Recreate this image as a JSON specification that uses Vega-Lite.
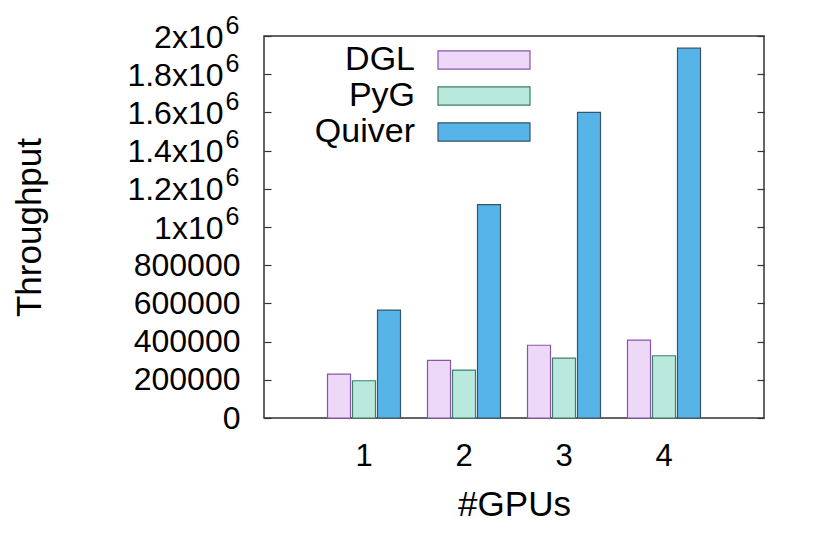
{
  "$schema": "https://vega.github.io/schema/vega-lite/v6.json",
  "width": 500,
  "height": 382,
  "autosize": "none",
  "padding": {"left": 264, "top": 36, "right": 66, "bottom": 116},
  "config": {
    "font": "Liberation Sans",
    "view": {"stroke": "#333333", "strokeWidth": 1.5},
    "legend": {
      "title": null,
      "orient": "none",
      "legendX": 203,
      "legendY": 7,
      "padding": 0,
      "rowPadding": 2,
      "symbolType": "M-4,-0.8H4V0.8H-4Z",
      "symbolSize": 529,
      "symbolStrokeWidth": 1.2,
      "labelAlign": "right",
      "labelBaseline": "middle",
      "labelFontSize": 34,
      "labelColor": "#000000",
      "labelOffset": -86,
      "labelLimit": 0
    }
  },
  "data": {
    "values": [
      {"gpus": 1, "system": "DGL", "value": 230000},
      {"gpus": 1, "system": "PyG", "value": 195000},
      {"gpus": 1, "system": "Quiver", "value": 565000},
      {"gpus": 2, "system": "DGL", "value": 302000},
      {"gpus": 2, "system": "PyG", "value": 251000},
      {"gpus": 2, "system": "Quiver", "value": 1117000},
      {"gpus": 3, "system": "DGL", "value": 381000},
      {"gpus": 3, "system": "PyG", "value": 313000},
      {"gpus": 3, "system": "Quiver", "value": 1600000},
      {"gpus": 4, "system": "DGL", "value": 408000},
      {"gpus": 4, "system": "PyG", "value": 326000},
      {"gpus": 4, "system": "Quiver", "value": 1936000}
    ]
  },
  "resolve": {"axis": {"y": "independent"}},
  "layer": [
    {
      "mark": {"type": "bar", "strokeWidth": 1.2},
      "encoding": {
        "x": {
          "field": "gpus",
          "type": "ordinal",
          "scale": {"paddingInner": 0.25, "paddingOuter": 0.625},
          "axis": {
            "title": "#GPUs",
            "labelAngle": 0,
            "labelFontSize": 31,
            "labelColor": "#000000",
            "labelPadding": 23,
            "ticks": false,
            "tickSize": 0,
            "domain": false,
            "titleFontSize": 35,
            "titleFontWeight": "normal",
            "titleColor": "#000000",
            "titlePadding": 16
          }
        },
        "xOffset": {
          "field": "system",
          "type": "nominal",
          "scale": {"domain": ["DGL", "PyG", "Quiver"], "paddingInner": 0.08, "paddingOuter": 0.04}
        },
        "y": {
          "field": "value",
          "type": "quantitative",
          "scale": {"domain": [0, 2000000], "nice": false},
          "axis": {
            "orient": "left",
            "title": "Throughput",
            "values": [0, 200000, 400000, 600000, 800000, 1000000, 1200000, 1400000, 1600000, 1800000, 2000000],
            "labelExpr": "datum.value < 1000000 ? '' + datum.value : ''",
            "labelFontSize": 32,
            "labelColor": "#000000",
            "labelPadding": 31,
            "tickSize": -7,
            "tickColor": "#333333",
            "tickWidth": 1.2,
            "domain": false,
            "grid": false,
            "titleFontSize": 35,
            "titleFontWeight": "normal",
            "titleColor": "#000000",
            "titlePadding": 86
          }
        },
        "fill": {
          "field": "system",
          "type": "nominal",
          "scale": {"domain": ["DGL", "PyG", "Quiver"], "range": ["#eed8f8", "#b9e9dc", "#56b4e9"]}
        },
        "stroke": {
          "field": "system",
          "type": "nominal",
          "scale": {"domain": ["DGL", "PyG", "Quiver"], "range": ["#8a55a8", "#3f7f6a", "#35566a"]}
        }
      }
    },
    {
      "mark": {"type": "rule", "opacity": 0},
      "encoding": {
        "y": {
          "field": "value",
          "type": "quantitative",
          "axis": {
            "orient": "left",
            "title": null,
            "values": [1000000, 1200000, 1400000, 1600000, 1800000, 2000000],
            "labelExpr": "(datum.value / 1000000) + 'x10'",
            "labelFontSize": 32,
            "labelColor": "#000000",
            "labelPadding": 41,
            "labelOffset": 1,
            "ticks": false,
            "tickSize": 0,
            "domain": false,
            "grid": false
          }
        }
      }
    },
    {
      "mark": {"type": "rule", "opacity": 0},
      "encoding": {
        "y": {
          "field": "value",
          "type": "quantitative",
          "axis": {
            "orient": "left",
            "title": null,
            "values": [1000000, 1200000, 1400000, 1600000, 1800000, 2000000],
            "labelExpr": "'6'",
            "labelFontSize": 25,
            "labelColor": "#000000",
            "labelPadding": 25,
            "labelOffset": -11,
            "labelFlush": false,
            "ticks": false,
            "tickSize": 0,
            "domain": false,
            "grid": false
          }
        }
      }
    },
    {
      "mark": {"type": "rule", "opacity": 0},
      "encoding": {
        "y": {
          "field": "value",
          "type": "quantitative",
          "axis": {
            "orient": "right",
            "title": null,
            "labels": false,
            "values": [0, 200000, 400000, 600000, 800000, 1000000, 1200000, 1400000, 1600000, 1800000, 2000000],
            "tickSize": -7,
            "tickColor": "#333333",
            "tickWidth": 1.2,
            "domain": false,
            "grid": false
          }
        }
      }
    }
  ]
}
